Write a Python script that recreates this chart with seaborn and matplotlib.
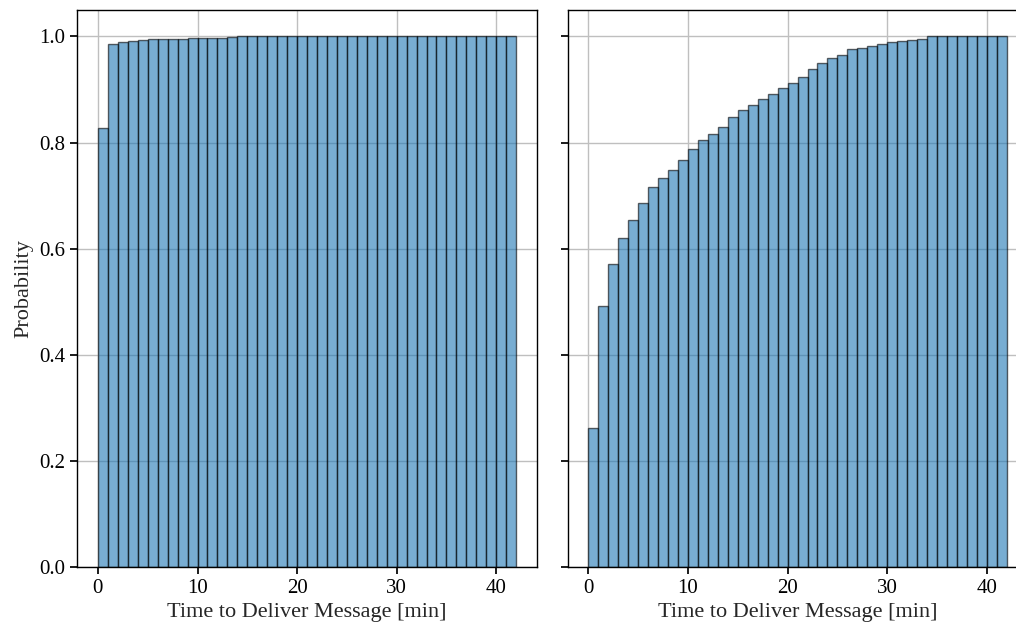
import numpy as np
import pandas as pd
import matplotlib
matplotlib.use("Agg")
import matplotlib.pyplot as plt
import seaborn as sns

# cumulative probability, one value per 1-min bin (0..42)
bin_edges = list(range(0, 43))
cdf_left = [0.828, 0.986, 0.989, 0.992, 0.993, 0.995, 0.996, 0.996, 0.996, 0.997,
            0.997, 0.998, 0.998, 0.999] + [1.0] * 28
cdf_right = [0.262, 0.492, 0.572, 0.621, 0.654, 0.686, 0.716, 0.733, 0.748, 0.768,
             0.787, 0.804, 0.816, 0.830, 0.848, 0.861, 0.871, 0.882, 0.891, 0.902,
             0.913, 0.924, 0.938, 0.950, 0.959, 0.966, 0.976, 0.979, 0.982, 0.985,
             0.990, 0.992, 0.993, 0.996] + [1.0] * 8
xlabel = "Time to Deliver Message [min]"
ylabel = "Probability"

sns.set_theme(style="ticks", rc={"axes.grid": True, "grid.color": "#bfbfbf",
                                 "grid.linewidth": 1.0, "axes.edgecolor": "black",
                                 "xtick.color": "black", "ytick.color": "black",
                                 "axes.linewidth": 1.0})
plt.rcParams["font.family"] = ["Liberation Serif", "DejaVu Serif"]

fig = plt.figure(figsize=(10.16, 6.27), dpi=100)
ax1 = fig.add_axes([0.0758, 0.0957, 0.4528, 0.8884])
ax2 = fig.add_axes([0.5586, 0.0957, 0.4528, 0.8884], sharey=ax1)


def to_frame(cdf):
    cdf = np.array(cdf)
    pmf = np.diff(np.r_[0.0, cdf])
    return pd.DataFrame({"t": np.array(bin_edges[:-1]) + 0.5, "w": pmf})


for ax, cdf in [(ax1, cdf_left), (ax2, cdf_right)]:
    d = to_frame(cdf)
    sns.histplot(data=d, x="t", weights="w", bins=bin_edges, stat="probability",
                 cumulative=True, ax=ax, color="#1f77b4", alpha=0.6,
                 edgecolor=(0, 0, 0, 0.6), linewidth=1.0)
    ax.set_xlabel(xlabel, fontsize=16)
    ax.tick_params(labelsize=15, length=5)
    ax.set_xticks([0, 10, 20, 30, 40])

ax1.set_ylabel(ylabel, fontsize=16)
ax2.set_ylabel("")
ax2.tick_params(labelleft=False)
ax1.set_yticks([0.0, 0.2, 0.4, 0.6, 0.8, 1.0])
ax1.set_ylim(0, 1.05)

fig.savefig("out.png", dpi=100)
